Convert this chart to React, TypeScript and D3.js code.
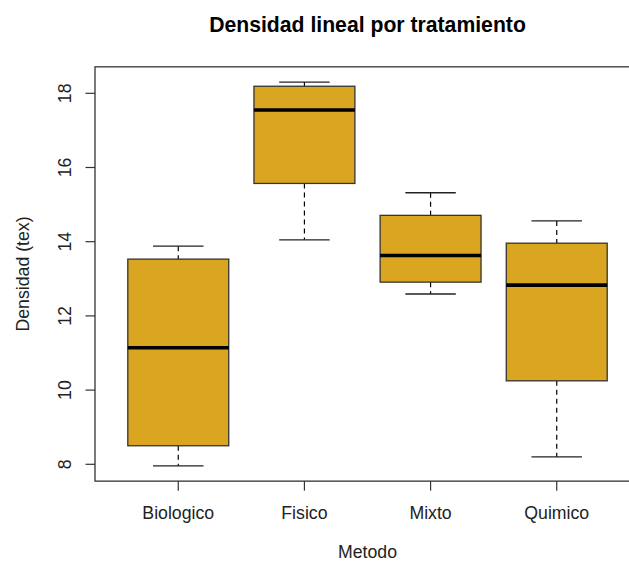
import React from "react";
import * as d3 from "d3";

const categories = ["Biologico", "Fisico", "Mixto", "Quimico"];
const whiskerLow = [7.96, 14.05, 12.59, 8.2];
const q1 = [8.5, 15.57, 12.91, 10.25];
const medians = [11.14, 17.55, 13.63, 12.83];
const q3 = [13.53, 18.19, 14.71, 13.96];
const whiskerHigh = [13.88, 18.3, 15.32, 14.56];
const yTicks = [8, 10, 12, 14, 16, 18];

const W = 629;
const H = 562;
const FONT = "'Liberation Sans', Arial, Helvetica, sans-serif";
const FILL = "#DAA520";

export default function App() {
  const n = categories.length;
  const x = d3.scaleLinear().domain([0.34, n + 0.66]).range([95, 640]);
  const dataMin = d3.min(whiskerLow) as number;
  const dataMax = d3.max(whiskerHigh) as number;
  const pad = (dataMax - dataMin) * 0.04;
  const yMin = dataMin - pad;
  const yMax = dataMax + pad;
  const y = d3.scaleLinear().domain([8, 18]).range([464.3, 93.3]);
  const top = y(yMax);
  const bottom = y(yMin);
  const left = x(0.34);
  const right = x(n + 0.66);
  const unit = x(1) - x(0);
  const boxW = 0.8 * unit;
  const capW = boxW / 2;
  const axisColor = "#333";

  return (
    <svg
      width={W}
      height={H}
      style={{ position: "absolute", left: 0, top: 0, background: "#fff" }}
      fontFamily={FONT}
    >
      <rect x={0} y={0} width={W} height={H} fill="#fff" />
      {/* title */}
      <text
        x={(left + right) / 2}
        y={32}
        textAnchor="middle"
        fontSize={21.2}
        fontWeight="bold"
        fill="#000"
      >
        Densidad lineal por tratamiento
      </text>

      {/* boxes */}
      {categories.map((c, i) => {
        const cx = x(i + 1);
        return (
          <g key={c}>
            <line
              x1={cx}
              x2={cx}
              y1={y(whiskerHigh[i])}
              y2={y(q3[i])}
              stroke="#000"
              strokeWidth={1.2}
              strokeDasharray="5,4"
            />
            <line
              x1={cx}
              x2={cx}
              y1={y(q1[i])}
              y2={y(whiskerLow[i])}
              stroke="#000"
              strokeWidth={1.2}
              strokeDasharray="5,4"
            />
            <line
              x1={cx - capW / 2}
              x2={cx + capW / 2}
              y1={y(whiskerHigh[i])}
              y2={y(whiskerHigh[i])}
              stroke="#222"
              strokeWidth={1.3}
            />
            <line
              x1={cx - capW / 2}
              x2={cx + capW / 2}
              y1={y(whiskerLow[i])}
              y2={y(whiskerLow[i])}
              stroke="#222"
              strokeWidth={1.3}
            />
            <rect
              x={cx - boxW / 2}
              y={y(q3[i])}
              width={boxW}
              height={y(q1[i]) - y(q3[i])}
              fill={FILL}
              stroke="#333"
              strokeWidth={1.3}
            />
            <line
              x1={cx - boxW / 2}
              x2={cx + boxW / 2}
              y1={y(medians[i])}
              y2={y(medians[i])}
              stroke="#000"
              strokeWidth={3.6}
            />
          </g>
        );
      })}

      {/* plot frame */}
      <rect
        x={left}
        y={top}
        width={right - left}
        height={bottom - top}
        fill="none"
        stroke={axisColor}
        strokeWidth={1.3}
      />

      {/* y axis */}
      {yTicks.map((t) => (
        <g key={t}>
          <line x1={left - 9.5} x2={left} y1={y(t)} y2={y(t)} stroke={axisColor} strokeWidth={1.2} />
          <text
            transform={`translate(${71},${y(t)}) rotate(-90)`}
            textAnchor="middle"
            fontSize={17.7}
            fill="#222"
          >
            {t}
          </text>
        </g>
      ))}

      {/* x axis ticks */}
      {categories.map((c, i) => (
        <g key={c}>
          <line x1={x(i + 1)} x2={x(i + 1)} y1={bottom} y2={bottom + 9.5} stroke={axisColor} strokeWidth={1.2} />
          <text x={x(i + 1)} y={519} textAnchor="middle" fontSize={17.7} fill="#222">
            {c}
          </text>
        </g>
      ))}

      {/* axis titles */}
      <text x={(left + right) / 2} y={558} textAnchor="middle" fontSize={17.7} fill="#222">
        Metodo
      </text>
      <text
        transform={`translate(${29},${(top + bottom) / 2}) rotate(-90)`}
        textAnchor="middle"
        fontSize={17.7}
        fill="#222"
      >
        Densidad (tex)
      </text>
    </svg>
  );
}
